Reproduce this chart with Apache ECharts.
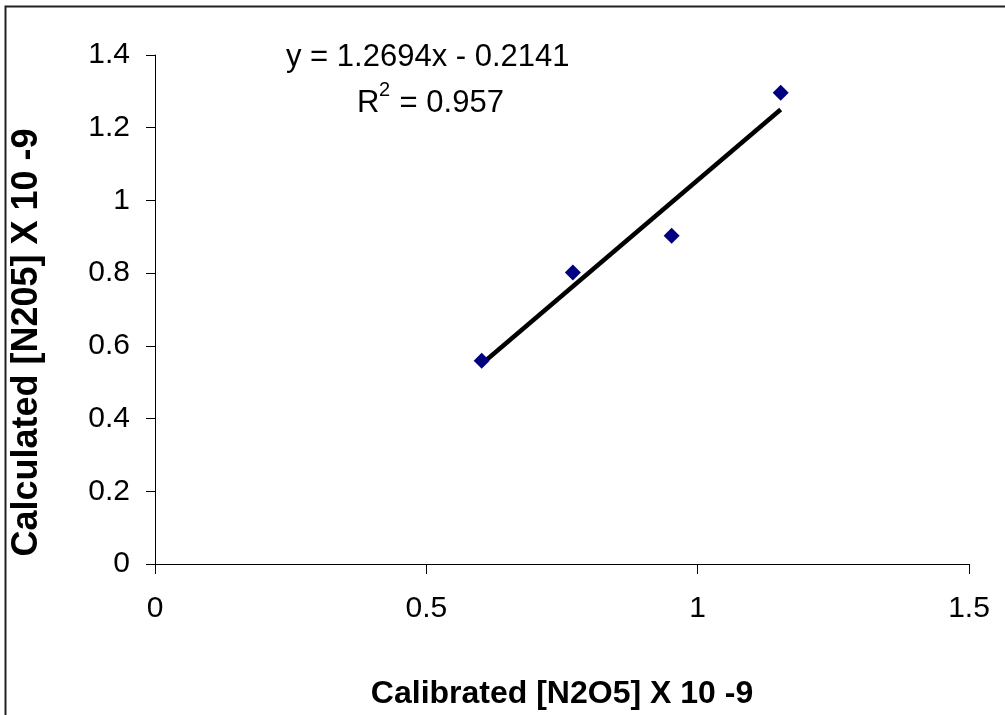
<!DOCTYPE html>
<html>
<head>
<meta charset="utf-8">
<script src="https://cdn.jsdelivr.net/npm/echarts@6/dist/echarts.min.js"></script>
<style>
  html, body { margin: 0; padding: 0; background: #fff; }
  #chart { width: 1005px; height: 715px; }
</style>
</head>
<body>
<div id="chart"></div>
<script>
// measured points (calibrated vs calculated)
const calibrated = [0.602, 0.770, 0.952, 1.153]
const calculated = [0.559, 0.802, 0.903, 1.296]
// linear trendline ends
const trendX = [0.602, 1.153]
const trendY = [0.550, 1.250]
const xTicks = [0, 0.5, 1, 1.5]
const yTicks = [0, 0.2, 0.4, 0.6, 0.8, 1, 1.2, 1.4]

const font = 'Liberation Sans, Arial, sans-serif'

const chart = echarts.init(document.getElementById('chart'))
chart.setOption({
  animation: false,
  backgroundColor: '#fff',
  grid: { left: 155, right: 36, top: 55, bottom: 147 },
  xAxis: {
    type: 'value',
    min: xTicks[0],
    max: xTicks[xTicks.length - 1],
    interval: 0.5,
    name: 'Calibrated [N2O5] X 10 -9',
    nameLocation: 'middle',
    nameGap: 114,
    nameTextStyle: { fontFamily: font, fontSize: 32, fontWeight: 'bold', color: '#000' },
    axisLine: { show: true, onZero: false, lineStyle: { color: '#000', width: 1 } },
    axisTick: { show: true, length: 10, lineStyle: { color: '#000' } },
    axisLabel: { margin: 30, fontFamily: font, fontSize: 30, color: '#000' },
    splitLine: { show: false }
  },
  yAxis: {
    type: 'value',
    min: yTicks[0],
    max: yTicks[yTicks.length - 1],
    interval: 0.2,
    name: 'Calculated [N205] X 10 -9',
    nameLocation: 'middle',
    nameGap: 110,
    nameTextStyle: {
      fontFamily: font, fontSize: 36, fontWeight: 'bold', color: '#000',
      padding: [0, 66, 0, 0]
    },
    axisLine: { show: true, lineStyle: { color: '#000', width: 1 } },
    axisTick: { show: true, length: 9, lineStyle: { color: '#000' } },
    axisLabel: {
      margin: 25, fontFamily: font, fontSize: 30, color: '#000',
      formatter: v => String(Math.round(v * 10) / 10)
    },
    splitLine: { show: false }
  },
  graphic: [
    {
      type: 'rect',
      shape: { x: 5.5, y: 6.5, width: 2000, height: 2000 },
      style: { fill: 'none', stroke: '#222', lineWidth: 2 },
      silent: true
    },
    {
      type: 'text',
      left: 286, top: 42,
      style: { text: 'y = 1.2694x - 0.2141', font: '31px ' + font, fill: '#000' }
    },
    // R² label, superscript as its own piece
    {
      type: 'text',
      left: 357, top: 88,
      style: { text: 'R', font: '31px ' + font, fill: '#000' }
    },
    {
      type: 'text',
      left: 379, top: 80,
      style: { text: '2', font: '20px ' + font, fill: '#000' }
    },
    {
      type: 'text',
      left: 391, top: 88,
      style: { text: ' = 0.957', font: '31px ' + font, fill: '#000' }
    }
  ],
  series: [
    {
      type: 'line',
      data: trendX.map((x, i) => [x, trendY[i]]),
      showSymbol: false,
      lineStyle: { color: '#000', width: 4.5 },
      z: 2
    },
    {
      type: 'scatter',
      data: calibrated.map((x, i) => [x, calculated[i]]),
      symbol: 'diamond',
      symbolSize: [16, 16],
      itemStyle: { color: '#000080', opacity: 1 },
      z: 3
    }
  ]
})
</script>
</body>
</html>
